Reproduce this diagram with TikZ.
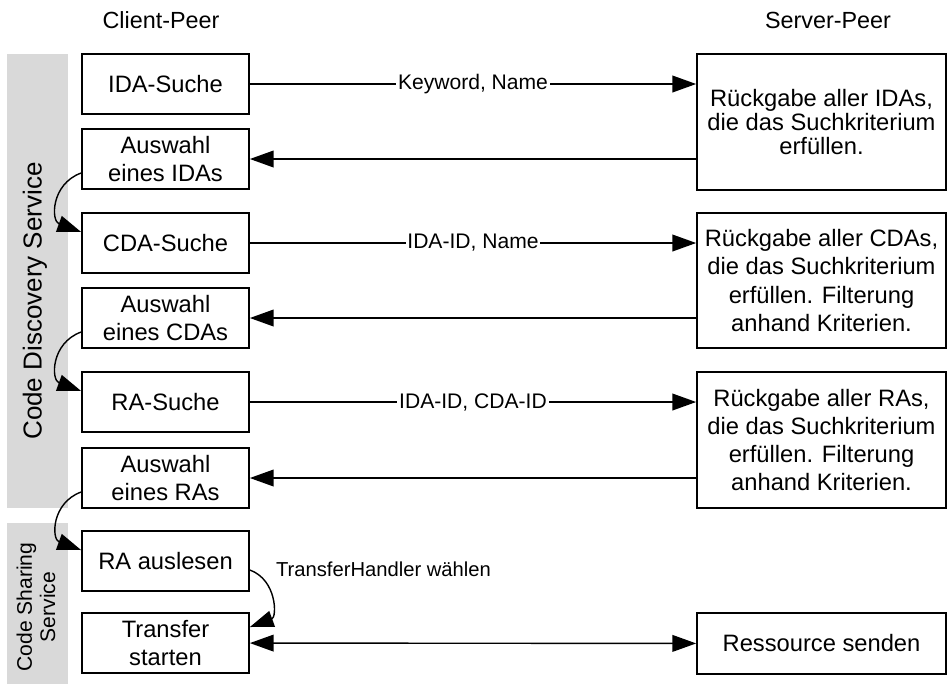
\documentclass[tikz,border=0pt]{standalone}
\usepackage{fontspec}
\setmainfont{Liberation Sans}
\usetikzlibrary{positioning,arrows.meta}

\tikzset{
    client/.style={draw, line width=1pt, minimum width=3.34cm, minimum height=1.2cm, inner sep=0pt, align=center, font=\fontsize{13.5}{16}\selectfont},
    server/.style={draw, line width=1pt, minimum width=4.98cm, inner sep=0pt, align=center, font=\fontsize{13.5}{16}\selectfont},
    msg/.style={-{Triangle[length=13.5pt,width=9.5pt]}, line width=0.8pt},
    label/.style={fill=white, inner sep=1pt, font=\fontsize{12}{14}\selectfont},
    band/.style={fill=black!15, draw=none}
}

\begin{document}
\begin{tikzpicture}[x=0.02cm, y=0.02cm]
    \useasboundingbox (0,0) rectangle (952,-684);

    % Service bands on the left
    \fill[band] (7,-54) rectangle (68,-508);
    \fill[band] (7,-523) rectangle (68,-684);
    \node[rotate=90, font=\fontsize{14.8}{17}\selectfont] (discovery) at (35,-301) {Code Discovery Service};
    \node[rotate=90, align=center, font=\fontsize{12}{13.3}\selectfont] (sharing) at (36,-607) {Code Sharing\\Service};

    % Column headings
    \node[font=\fontsize{13.3}{15}\selectfont] (clientpeer) at (161,-20) {Client-Peer};
    \node[font=\fontsize{13.3}{15}\selectfont] (serverpeer) at (828,-20) {Server-Peer};

    % Client side steps
    \node[client] (idasearch) at (165.5,-84) {IDA-Suche};
    \node[client] (idapick) at (165.5,-159) {Auswahl\\eines IDAs};
    \node[client] (cdasearch) at (165.5,-243) {CDA-Suche};
    \node[client] (cdapick) at (165.5,-318) {Auswahl\\eines CDAs};
    \node[client] (rasearch) at (165.5,-402) {RA-Suche};
    \node[client] (rapick) at (165.5,-478) {Auswahl\\eines RAs};
    \node[client] (raread) at (165.5,-561) {RA auslesen};
    \node[client] (transfer) at (165.5,-643) {Transfer\\starten};

    % Server side answers
    \node[server, minimum height=2.72cm, font=\fontsize{13.5}{13.5}\selectfont] (idaresult) at (821.5,-122) {Rückgabe aller IDAs,\\die das Suchkriterium\\erfüllen.};
    \node[server, minimum height=2.7cm] (cdaresult) at (821.5,-280.5) {Rückgabe aller CDAs,\\die das Suchkriterium\\erfüllen. Filterung\\anhand Kriterien.};
    \node[server, minimum height=2.72cm] (raresult) at (821.5,-440) {Rückgabe aller RAs,\\die das Suchkriterium\\erfüllen. Filterung\\anhand Kriterien.};
    \node[server, minimum height=1.22cm] (send) at (821.5,-643.5) {Ressource senden};

    % Requests and replies
    \draw[msg] (idasearch) -- node[label] {Keyword, Name} (idasearch -| idaresult.west);
    \draw[msg] (idapick -| idaresult.west) -- (idapick);
    \draw[msg] (cdasearch) -- node[label] {IDA-ID, Name} (cdasearch -| cdaresult.west);
    \draw[msg] (cdapick -| cdaresult.west) -- (cdapick);
    \draw[msg] (rasearch) -- node[label] {IDA-ID, CDA-ID} (rasearch -| raresult.west);
    \draw[msg] (rapick -| raresult.west) -- (rapick);
    \draw[msg, {Triangle[length=13.5pt,width=9.5pt]}-{Triangle[length=13.5pt,width=9.5pt]}] (transfer) -- (send);

    % Next step on the client
    \draw[msg] ([yshift=-0.28cm]idapick.west) to[out=200, in=160, looseness=1.4] ([yshift=0.22cm]cdasearch.west);
    \draw[msg] ([yshift=-0.28cm]cdapick.west) to[out=200, in=160, looseness=1.4] ([yshift=0.22cm]rasearch.west);
    \draw[msg] ([yshift=-0.28cm]rapick.west) to[out=200, in=160, looseness=1.4] ([yshift=0.22cm]raread.west);
    \draw[msg] ([yshift=-0.18cm]raread.east) to[out=-20, in=20, looseness=1.3] ([yshift=0.32cm]transfer.east);
    \node[anchor=west, font=\fontsize{11.5}{14}\selectfont] (handler) at ([xshift=0.4cm, yshift=-0.16cm]raread.east) {TransferHandler wählen};
\end{tikzpicture}
\end{document}
